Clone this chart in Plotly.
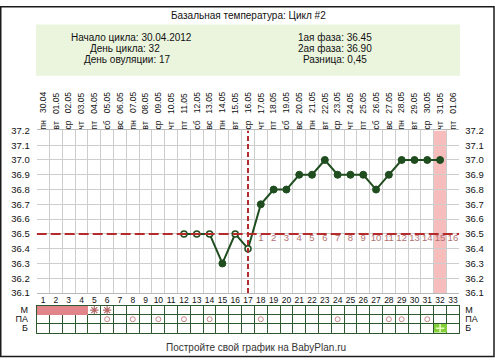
import plotly.graph_objects as go

W, H = 495, 363

# ---------------- data ----------------
days = list(range(1, 34))
dates = ["30.04", "01.05", "02.05", "03.05", "04.05", "05.05", "06.05", "07.05",
         "08.05", "09.05", "10.05", "11.05", "12.05", "13.05", "14.05", "15.05",
         "16.05", "17.05", "18.05", "19.05", "20.05", "21.05", "22.05", "23.05",
         "24.05", "25.05", "26.05", "27.05", "28.05", "29.05", "30.05", "31.05", "01.06"]
weekdays = ["пн", "вт", "ср", "чт", "пт", "сб", "вс", "пн", "вт", "ср", "чт", "пт",
            "сб", "вс", "пн", "вт", "ср", "чт", "пт", "сб", "вс", "пн", "вт", "ср",
            "чт", "пт", "сб", "вс", "пн", "вт", "ср", "чт", "пт"]
temp_days = [12, 13, 14, 15, 16, 17, 18, 19, 20, 21, 22, 23, 24, 25, 26, 27, 28, 29, 30, 31, 32]
temps = [36.5, 36.5, 36.5, 36.3, 36.5, 36.4, 36.7, 36.8, 36.8, 36.9, 36.9, 37.0,
         36.9, 36.9, 36.9, 36.8, 36.9, 37.0, 37.0, 37.0, 37.0]
open_days = [12, 13, 14, 16, 17]
coverline = 36.5
ovulation_day = 17
highlight_day = 32
phase_days = [18, 19, 20, 21, 22, 23, 24, 25, 26, 27, 28, 29, 30, 31, 32, 33]
phase_labels = ["1", "2", "3", "4", "5", "6", "7", "8", "9", "10", "11", "12", "13", "14", "15", "16"]
y_ticks = [36.1, 36.2, 36.3, 36.4, 36.5, 36.6, 36.7, 36.8, 36.9, 37.0, 37.1, 37.2]

table_rows = ["М", "ПА", "Б"]
menses_days = [1, 2, 3, 4]
spotting_days = [5, 6]
pa_days = [6, 8, 10, 12, 14, 18, 24, 28, 29, 31]
test_days = [32]

title = "Базальная температура: Цикл #2"
header_left = ["Начало цикла: 30.04.2012", "День цикла: 32", "День овуляции: 17"]
header_right = ["1ая фаза: 36.45", "2ая фаза: 36.90", "Разница: 0,45"]
footer = "Постройте свой график на BabyPlan.ru"

# ---------------- helpers ----------------
FONT = "Liberation Sans"
def px_x(p):
    return p / W
def px_y(p):
    return 1 - p / H

xdom = [px_x(36.7), px_x(459.3)]
ydom_main = [px_y(296), px_y(128.3)]
ydom_tab = [px_y(337), px_y(309)]
xrange_ = [days[0] - 0.5, days[-1] + 0.5]
bounds = [d - 0.5 for d in days] + [days[-1] + 0.5]
row_idx = {r: len(table_rows) - 1 - i for i, r in enumerate(table_rows)}

GREEN = "#1f4d1f"
RED = "#b52a2a"

fig = go.Figure()

# temperature line
fig.add_trace(go.Scatter(x=temp_days, y=temps, mode="lines",
                         line=dict(color=GREEN, width=2), hoverinfo="skip",
                         xaxis="x", yaxis="y"))
fd = [d for d in temp_days if d not in open_days]
fig.add_trace(go.Scatter(x=fd, y=[temps[temp_days.index(d)] for d in fd], mode="markers",
                         marker=dict(color=GREEN, size=7, line=dict(color=GREEN, width=1)),
                         xaxis="x", yaxis="y"))
fig.add_trace(go.Scatter(x=open_days, y=[temps[temp_days.index(d)] for d in open_days], mode="markers",
                         marker=dict(color="#f4f4e8", size=6, line=dict(color=GREEN, width=1.5)),
                         xaxis="x", yaxis="y"))
# luteal day counters
fig.add_trace(go.Scatter(x=phase_days, y=[coverline] * len(phase_days), mode="text",
                         text=phase_labels, textposition="bottom center",
                         textfont=dict(family=FONT, size=9.5, color="#b07070"),
                         xaxis="x", yaxis="y"))

# top date labels (invisible carrier trace for xaxis2)
fig.add_trace(go.Scatter(x=days, y=[y_ticks[0]] * len(days), mode="markers",
                         marker=dict(opacity=0), xaxis="x2", yaxis="y", hoverinfo="skip"))
# right y labels carrier
fig.add_trace(go.Scatter(x=[days[0]], y=[y_ticks[0]], mode="markers",
                         marker=dict(opacity=0), xaxis="x", yaxis="y2", hoverinfo="skip"))

# table heatmap
z = [[None] * len(days) for _ in table_rows]
for d in menses_days:
    z[table_rows.index("М")][d - 1] = 1
for d in test_days:
    z[table_rows.index("Б")][d - 1] = 2
fig.add_trace(go.Heatmap(x=days, y=[row_idx[r] for r in table_rows], z=z,
                         zmin=1, zmax=2, showscale=False, hoverinfo="skip",
                         colorscale=[[0, "#e2858a"], [0.5, "#e2858a"], [0.5, "#84d03c"], [1, "#84d03c"]],
                         xaxis="x3", yaxis="y3"))
fig.add_trace(go.Scatter(x=spotting_days, y=[row_idx["М"]] * len(spotting_days), mode="markers",
                         marker=dict(symbol="asterisk-open", size=7, color="#b86a6a", line=dict(width=1.2)),
                         xaxis="x3", yaxis="y3"))
fig.add_trace(go.Scatter(x=pa_days, y=[row_idx["ПА"]] * len(pa_days), mode="markers",
                         marker=dict(symbol="circle-open", size=5, color="#c98585", line=dict(width=1)),
                         xaxis="x3", yaxis="y3"))
fig.add_trace(go.Scatter(x=test_days, y=[row_idx["Б"]] * len(test_days), mode="markers",
                         marker=dict(symbol="cross-thin-open", size=6, color="#eaffc0", line=dict(width=1.5)),
                         xaxis="x3", yaxis="y3"))
fig.add_trace(go.Scatter(x=[days[0]], y=[0], mode="markers", marker=dict(opacity=0),
                         xaxis="x3", yaxis="y4", hoverinfo="skip"))

tickfont = dict(family=FONT, size=9.5, color="#111")
rowfont = dict(family=FONT, size=9, color="#111")

fig.update_layout(
    width=W, height=H, margin=dict(l=0, r=0, t=0, b=0),
    paper_bgcolor="white", plot_bgcolor="white", showlegend=False,
    xaxis=dict(domain=xdom, range=xrange_, anchor="y", tickmode="array", tickvals=days,
               ticktext=[str(d) for d in days], ticks="", showgrid=False, zeroline=False,
               showline=True, mirror=True, linecolor="#b8b8b8", linewidth=1,
               ticklabelstandoff=-1,
               tickfont=dict(family=FONT, size=8.5, color="#111"),
               minor=dict(tickvals=bounds, showgrid=True, gridcolor="#cdcdcd", gridwidth=1, ticks="")),
    xaxis2=dict(domain=xdom, range=xrange_, anchor="y", overlaying="x", side="top",
                tickmode="array", tickvals=days,
                ticktext=[w + "\u00a0\u00a0\u00a0" + d for w, d in zip(weekdays, dates)],
                tickangle=-90, ticks="", showgrid=False, zeroline=False, showline=False,
                tickfont=dict(family=FONT, size=8.5, color="#111")),
    yaxis=dict(domain=ydom_main, range=[y_ticks[0], y_ticks[-1]], anchor="x",
               tickmode="array", tickvals=y_ticks, ticktext=[f"{v:.1f}" for v in y_ticks],
               showgrid=True, gridcolor="#cdcdcd", zeroline=False, ticks="",
               ticklabelstandoff=6, tickfont=tickfont),
    yaxis2=dict(domain=ydom_main, range=[y_ticks[0], y_ticks[-1]], anchor="x", overlaying="y",
                side="right", tickmode="array", tickvals=y_ticks,
                ticktext=[f"{v:.1f}" for v in y_ticks], showgrid=False, zeroline=False,
                ticks="", ticklabelstandoff=5, tickfont=tickfont),
    xaxis3=dict(domain=xdom, range=xrange_, anchor="y3", showticklabels=False, ticks="",
                showgrid=False, zeroline=False, showline=True, mirror=True,
                linecolor="#2f5a2f", linewidth=1,
                minor=dict(tickvals=bounds, showgrid=True, gridcolor="#2f5a2f", gridwidth=1, ticks="")),
    yaxis3=dict(domain=ydom_tab, range=[-0.5, len(table_rows) - 0.5], anchor="x3",
                tickmode="array", tickvals=[row_idx[r] for r in table_rows], ticktext=table_rows,
                showgrid=False, zeroline=False, ticks="", ticklabelstandoff=6,
                showline=True, mirror=True, linecolor="#2f5a2f",
                minor=dict(tickvals=[i + 0.5 for i in range(len(table_rows) - 1)],
                           showgrid=True, gridcolor="#2f5a2f", gridwidth=1, ticks=""),
                tickfont=rowfont),
    yaxis4=dict(domain=ydom_tab, range=[-0.5, len(table_rows) - 0.5], anchor="x3", overlaying="y3",
                side="right", tickmode="array", tickvals=[row_idx[r] for r in table_rows],
                ticktext=table_rows, showgrid=False, zeroline=False, ticks="",
                ticklabelstandoff=5, tickfont=rowfont),
)

shapes = [
    # outer frame
    dict(type="rect", xref="paper", yref="paper", x0=px_x(0.75), x1=px_x(494), y0=px_y(361.5), y1=px_y(0.75),
         line=dict(color="#1a1a1a", width=1.5), fillcolor="rgba(0,0,0,0)"),
    # header box
    dict(type="rect", xref="paper", yref="paper", x0=px_x(36), x1=px_x(460), y0=px_y(72), y1=px_y(19),
         line=dict(width=0), fillcolor="#ebf5de", layer="below"),
    # highlighted day
    dict(type="rect", xref="x", yref="y", x0=highlight_day - 0.5, x1=highlight_day + 0.5,
         y0=y_ticks[0], y1=y_ticks[-1],
         line=dict(width=0), fillcolor="#f7bcbc", layer="below"),
    # coverline
    dict(type="line", xref="x", yref="y", x0=xrange_[0], x1=xrange_[1], y0=coverline, y1=coverline,
         line=dict(color=RED, width=2, dash="10px,4px")),
    # ovulation line
    dict(type="line", xref="x", yref="y", x0=ovulation_day, x1=ovulation_day,
         y0=y_ticks[0], y1=y_ticks[-1],
         line=dict(color=RED, width=2, dash="5px,3px")),
]
fig.update_layout(shapes=shapes)

anns = [dict(text=title, x=px_x(248), y=px_y(9.5), xref="paper", yref="paper", showarrow=False,
             xanchor="center", yanchor="middle", font=dict(family=FONT, size=10, color="#111"))]
left_cx = [131.7, 124.7, 127]
right_cx = [334.7, 334.7, 334.5]
rows_y = [32, 44, 55.5]
for t, cx, cy in zip(header_left, left_cx, rows_y):
    anns.append(dict(text=t, x=px_x(cx), y=px_y(cy), xref="paper", yref="paper", showarrow=False,
                     xanchor="center", yanchor="middle", font=dict(family=FONT, size=10, color="#111")))
for t, cx, cy in zip(header_right, right_cx, rows_y):
    anns.append(dict(text=t, x=px_x(cx), y=px_y(cy), xref="paper", yref="paper", showarrow=False,
                     xanchor="center", yanchor="middle", font=dict(family=FONT, size=10, color="#111")))
anns.append(dict(text=footer, x=px_x(256), y=px_y(352), xref="paper", yref="paper", showarrow=False,
                 xanchor="center", yanchor="middle", font=dict(family=FONT, size=10, color="#333")))
fig.update_layout(annotations=anns)

fig.write_html("out.html", config={"displayModeBar": False},
               post_script="document.body.style.margin='0';document.body.style.overflow='hidden';")
